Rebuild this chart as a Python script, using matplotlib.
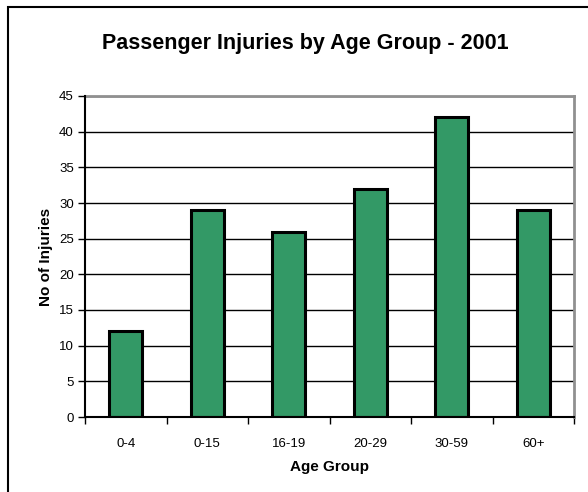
import matplotlib.pyplot as plt
import matplotlib.patches as mpatches
import numpy as np

plt.rcParams['font.family'] = ['Liberation Sans', 'DejaVu Sans']

age_groups = ["0-4", "0-15", "16-19", "20-29", "30-59", "60+"]
injuries = [12, 29, 26, 32, 42, 29]
y_ticks = [0, 5, 10, 15, 20, 25, 30, 35, 40, 45]

fig = plt.figure(figsize=(5.88, 4.92), dpi=100)
ax = fig.add_axes([85 / 588, 1 - 417 / 492, (574 - 85) / 588, (417 - 96) / 492])

x = np.arange(len(age_groups))
ax.bar(x, injuries, width=0.4, color="#339966", edgecolor="black", linewidth=2.2, zorder=3)

ax.set_xlim(-0.5, len(age_groups) - 0.5)
ax.set_ylim(0, 45)
ax.set_yticks(y_ticks)
ax.set_yticklabels([str(v) for v in y_ticks], fontsize=9.5)
ax.yaxis.grid(True, color="black", linewidth=1, zorder=0)

ax.set_xticks(x)
ax.set_xticklabels(age_groups, fontsize=9.5)
ax.set_xticks(np.arange(-0.5, len(age_groups)), minor=True)
ax.tick_params(axis="x", which="major", length=0, pad=15)
ax.tick_params(axis="x", which="minor", length=5, width=1)
ax.tick_params(axis="y", length=5, width=1, pad=3)

for s in ["left", "bottom"]:
    ax.spines[s].set_color("black")
    ax.spines[s].set_linewidth(1.5)
    ax.spines[s].set_zorder(4)
for s in ["top", "right"]:
    ax.spines[s].set_color("#909090")
    ax.spines[s].set_linewidth(2)

ax.set_xlabel("Age Group", fontsize=11, fontweight="bold", labelpad=7)
ax.set_ylabel("No of Injuries", fontsize=11, fontweight="bold", labelpad=4)

fig.text(305 / 588, 1 - 43 / 492, "Passenger Injuries by Age Group - 2001",
         fontsize=15.5, fontweight="bold", ha="center", va="center")

# outer chart frame (cropped at right/bottom)
fig.patches.append(mpatches.Rectangle((8 / 588, -0.1), 1.2, 1 - 7 / 492 + 0.1,
                                      transform=fig.transFigure, fill=False,
                                      edgecolor="black", linewidth=1.5))

fig.savefig("out.png", dpi=100)
